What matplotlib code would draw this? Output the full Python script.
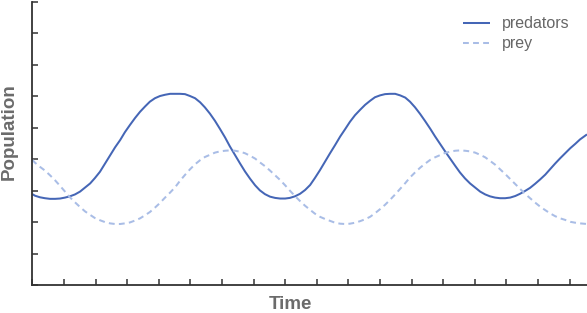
import matplotlib
matplotlib.use("Agg")
import matplotlib.pyplot as plt

# Data (x: time units, y: population units)
pred_x = [0.00, 0.085, 0.24, 0.40, 0.56, 0.72, 0.88, 1.035, 1.19, 1.35, 1.51, 1.67, 1.83, 1.98,
          2.14, 2.30, 2.46, 2.62, 2.78, 2.93, 3.09, 3.25, 3.41, 3.57, 3.72, 3.88, 4.04, 4.20,
          4.36, 4.52, 4.67, 4.83, 4.99, 5.15, 5.31, 5.46, 5.62, 5.78, 5.94, 6.10, 6.25, 6.41,
          6.57, 6.73, 6.89, 7.05, 7.20, 7.36, 7.52, 7.68, 7.84, 8.00, 8.15, 8.31, 8.47, 8.63,
          8.79, 8.94, 9.10, 9.26, 9.42, 9.58, 9.74, 9.90, 10.05, 10.21, 10.37, 10.53, 10.69,
          10.84, 11.00, 11.16, 11.32, 11.48, 11.64, 11.80, 11.95, 12.11, 12.27, 12.43, 12.59,
          12.74, 12.90, 13.06, 13.22, 13.38, 13.53, 13.69, 13.85, 14.01, 14.17, 14.33, 14.48,
          14.64, 14.80, 14.96, 15.12, 15.28, 15.43, 15.59, 15.75, 15.91, 16.07, 16.23, 16.38,
          16.54, 16.70, 16.86, 17.02, 17.18, 17.33, 17.55]
pred_y = [2.89, 2.84, 2.79, 2.76, 2.74, 2.74, 2.75, 2.78, 2.82, 2.88, 2.97, 3.10, 3.23, 3.40,
          3.60, 3.86, 4.12, 4.38, 4.61, 4.86, 5.09, 5.31, 5.51, 5.68, 5.83, 5.94, 6.01, 6.05,
          6.08, 6.08, 6.08, 6.07, 6.01, 5.94, 5.81, 5.65, 5.45, 5.22, 4.96, 4.69, 4.41, 4.14,
          3.87, 3.61, 3.38, 3.17, 3.01, 2.89, 2.81, 2.77, 2.75, 2.75, 2.77, 2.82, 2.90, 3.02,
          3.18, 3.40, 3.65, 3.92, 4.19, 4.45, 4.72, 4.96, 5.19, 5.40, 5.57, 5.73, 5.86,
          5.97, 6.03, 6.07, 6.08, 6.08, 6.03, 5.96, 5.83, 5.65, 5.44, 5.21, 4.97,
          4.73, 4.49, 4.25, 4.02, 3.79, 3.58, 3.39, 3.23, 3.10, 2.97, 2.88, 2.82,
          2.78, 2.76, 2.76, 2.78, 2.83, 2.90, 2.99, 3.09, 3.22, 3.36, 3.51, 3.68,
          3.86, 4.03, 4.19, 4.35, 4.49, 4.63, 4.79]

prey_x = [0.00, 0.085, 0.24, 0.40, 0.56, 0.72, 0.88, 1.035, 1.19, 1.35, 1.51, 1.67, 1.83, 1.98,
          2.14, 2.30, 2.46, 2.62, 2.78, 2.93, 3.09, 3.25, 3.41, 3.57, 3.72, 3.88, 4.04, 4.20,
          4.36, 4.52, 4.67, 4.83, 4.99, 5.15, 5.31, 5.46, 5.62, 5.78, 5.94, 6.10, 6.25, 6.41,
          6.57, 6.73, 6.89, 7.05, 7.20, 7.36, 7.52, 7.68, 7.84, 8.00, 8.15, 8.31, 8.47, 8.63,
          8.79, 8.94, 9.10, 9.26, 9.42, 9.58, 9.74, 9.90, 10.05, 10.21, 10.37, 10.53, 10.69,
          10.84, 11.00, 11.16, 11.32, 11.48, 11.64, 11.80, 11.95, 12.11, 12.27, 12.43, 12.59,
          12.74, 12.90, 13.06, 13.22, 13.38, 13.53, 13.69, 13.85, 14.01, 14.17, 14.33, 14.48,
          14.64, 14.80, 14.96, 15.12, 15.28, 15.43, 15.59, 15.75, 15.91, 16.07, 16.23, 16.38,
          16.54, 16.70, 16.86, 17.02, 17.18, 17.33, 17.55]
prey_y = [3.98, 3.89, 3.76, 3.64, 3.49, 3.33, 3.15, 2.97, 2.79, 2.63, 2.48, 2.34, 2.23, 2.13,
          2.06, 2.00, 1.96, 1.94, 1.94, 1.96, 1.99, 2.05, 2.12, 2.22, 2.32, 2.46, 2.61, 2.78,
          2.94, 3.11, 3.31, 3.50, 3.68, 3.84, 3.97, 4.07, 4.14, 4.21, 4.25, 4.27, 4.28, 4.27,
          4.24, 4.19, 4.11, 4.02, 3.90, 3.78, 3.64, 3.49, 3.34, 3.17, 3.00, 2.83, 2.67, 2.52,
          2.39, 2.27, 2.17, 2.10, 2.04, 1.98, 1.95, 1.94, 1.95, 1.98, 2.03, 2.09, 2.17,
          2.28, 2.41, 2.55, 2.71, 2.88, 3.06, 3.24, 3.42, 3.58, 3.73, 3.86, 3.98,
          4.06, 4.13, 4.20, 4.24, 4.27, 4.28, 4.27, 4.25, 4.21, 4.14, 4.06, 3.95,
          3.83, 3.68, 3.53, 3.37, 3.21, 3.06, 2.90, 2.76, 2.62, 2.49, 2.38, 2.28,
          2.19, 2.12, 2.07, 2.01, 1.98, 1.96, 1.94]

x_ticks = list(range(0, 18))
y_ticks = list(range(0, 10))

plt.rcParams['font.family'] = ['Liberation Sans', 'DejaVu Sans']

fig = plt.figure(figsize=(5.87, 3.13), dpi=100)
ax = fig.add_axes([32.3 / 587, (313 - 285) / 313, 1 - 32.3 / 587, 283 / 313])

pred_color = '#4566b6'
prey_color = '#a9bde6'

ax.plot(pred_x, pred_y, color=pred_color, lw=1.45, label='predators',
        solid_joinstyle='round', solid_capstyle='butt')
ax.plot(prey_x, prey_y, color=prey_color, lw=1.45, dashes=(2.9, 2.1), label='prey',
        dash_joinstyle='round')

ax.set_xlim(0, 17.55)
ax.set_ylim(0, 9)
ax.set_xticks(x_ticks)
ax.set_yticks(y_ticks)
ax.tick_params(direction='in', length=4, width=1.1, color='#333333',
               labelbottom=False, labelleft=False)
for s in ['top', 'right']:
    ax.spines[s].set_visible(False)
for s in ['left', 'bottom']:
    ax.spines[s].set_color('#333333')
    ax.spines[s].set_linewidth(1.3)

ax.set_xlabel('Time', fontsize=13.5, fontweight='bold', color='#6b6b6b')
ax.xaxis.set_label_coords(0.4655, -0.069)
ax.xaxis.label.set_va('center')
ax.set_ylabel('Population', fontsize=13.5, fontweight='bold', color='#6b6b6b')
ax.yaxis.set_label_coords(-0.042, 0.5424)
ax.yaxis.label.set_va('center')

leg = ax.legend(loc='upper right', bbox_to_anchor=(0.994, 1.0), frameon=False,
                fontsize=11.5, handlelength=1.7, handletextpad=0.75, labelspacing=0.3,
                labelcolor='#666666')

fig.savefig('out.png', dpi=100)
